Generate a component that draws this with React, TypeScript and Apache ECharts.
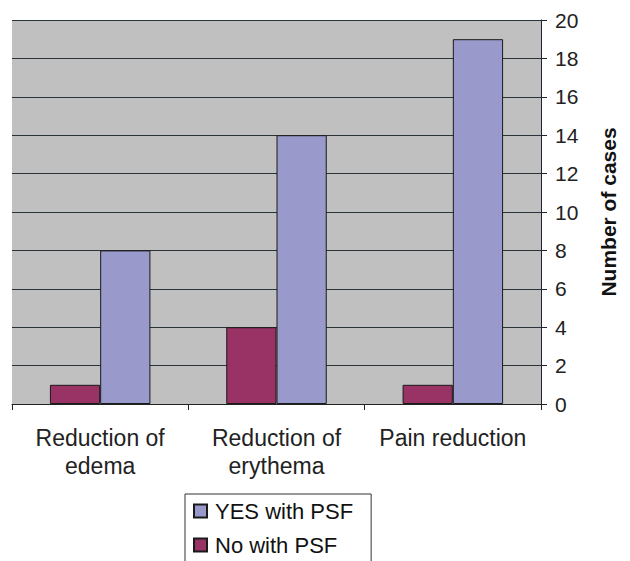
import React, { useEffect, useRef } from "react";
import * as echarts from "echarts";

const categories = ["Reduction of\nedema", "Reduction of\nerythema", "Pain reduction"];
const yesWithPSF = [8, 14, 19];
const noWithPSF = [1, 4, 1];
const legendNames = ["YES with PSF", "No with PSF"];

export default function App() {
  const ref = useRef<HTMLDivElement>(null);
  useEffect(() => {
    if (!ref.current) return;
    const chart = echarts.init(ref.current, null, { renderer: "svg" });
    const font = "Liberation Sans, Arial, sans-serif";
    chart.setOption({
      animation: false,
      backgroundColor: "#ffffff",
      grid: {
        left: 12,
        right: 89,
        top: 20,
        bottom: 157,
        show: true,
        backgroundColor: "#c0c0c0",
        borderWidth: 0,
      },
      legend: {
        data: legendNames,
        orient: "vertical",
        left: 185,
        top: 494,
        width: 185,
        height: 200,
        borderColor: "#333",
        borderWidth: 1,
        padding: [6, 18, 10, 8],
        itemWidth: 13,
        itemHeight: 13,
        itemGap: 12,
        icon: "rect",
        textStyle: { fontFamily: font, fontSize: 22, color: "#111", padding: [0, 0, 0, 3] },
      },
      xAxis: {
        type: "category",
        data: categories,
        axisLine: { show: true, lineStyle: { color: "#222", width: 1 } },
        axisTick: { show: true, length: 6, alignWithLabel: false, lineStyle: { color: "#222" } },
        axisLabel: {
          fontFamily: font,
          fontSize: 23,
          color: "#222",
          lineHeight: 28,
          margin: 20,
          interval: 0,
        },
      },
      yAxis: {
        type: "value",
        position: "right",
        min: 0,
        max: 20,
        interval: 2,
        name: "Number of cases",
        nameLocation: "middle",
        nameGap: 57,
        nameRotate: 90,
        nameTextStyle: { fontFamily: font, fontSize: 21, fontWeight: "bold", color: "#111" },
        axisLine: { show: true, lineStyle: { color: "#223", width: 1 } },
        axisTick: { show: true, length: 6, lineStyle: { color: "#223" } },
        axisLabel: { fontFamily: font, fontSize: 21, color: "#222", margin: 14 },
        splitLine: { show: true, lineStyle: { color: "#2a3438", width: 1 } },
      },
      series: [
        {
          name: "No with PSF",
          type: "bar",
          data: noWithPSF,
          barGap: "0%",
          barCategoryGap: "43%",
          itemStyle: { color: "#993366", borderColor: "#1a1a1a", borderWidth: 1 },
        },
        {
          name: "YES with PSF",
          type: "bar",
          data: yesWithPSF,
          barGap: "0%",
          barCategoryGap: "43%",
          itemStyle: { color: "#9999cc", borderColor: "#1a1a1a", borderWidth: 1 },
        },
      ],
    });
    return () => chart.dispose();
  }, []);
  return (
    <div
      ref={ref}
      style={{ position: "absolute", left: 0, top: 0, width: 630, height: 561 }}
    />
  );
}
